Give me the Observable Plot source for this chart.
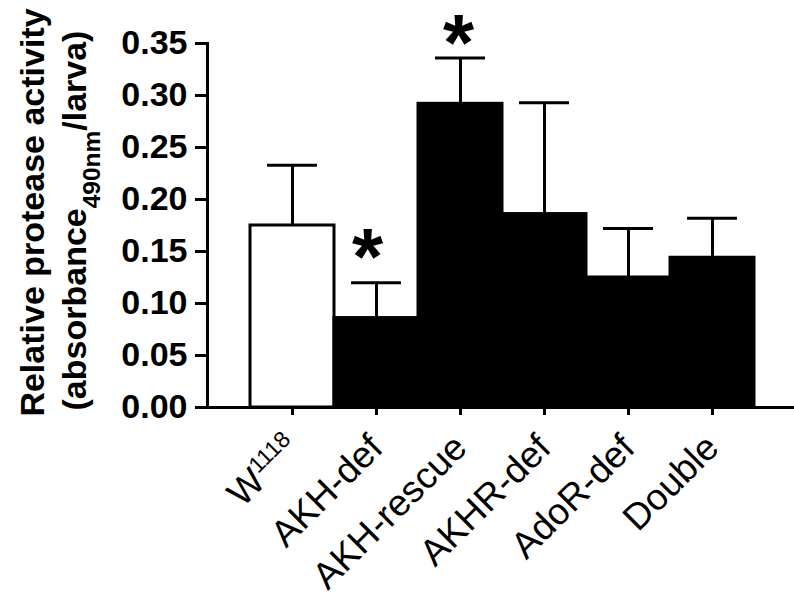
<!DOCTYPE html>
<html><head><meta charset="utf-8">
<script src="https://cdn.jsdelivr.net/npm/d3@7"></script>
<script src="https://cdn.jsdelivr.net/npm/@observablehq/plot@0.6"></script>
<style>
body{margin:0;background:#fff}
svg{font-family:"Liberation Sans", Arial, sans-serif}
</style>
</head><body><div id="chart"></div>
<script>
const categories = ["W1118","AKH-def","AKH-rescue","AKHR-def","AdoR-def","Double"];
const means = [0.175, 0.086, 0.292, 0.186, 0.125, 0.144];
const errors = [0.058, 0.034, 0.044, 0.107, 0.047, 0.038];
const barFills = ["white","black","black","black","black","black"];
const significant = [false, true, true, false, false, false];
const yTicks = [0, 0.05, 0.10, 0.15, 0.20, 0.25, 0.30, 0.35];
const yTitle1 = "Relative protease activity";
const yTitle2 = "(absorbance490nm/larva)";

const data = categories.map((c, i) => ({cat: c, mean: means[i], top: means[i] + errors[i], fill: barFills[i], sig: significant[i]}));

const plot = Plot.plot({
  width: 794,
  height: 592,
  marginLeft: 207,
  marginRight: 0,
  marginTop: 43,
  marginBottom: 185,
  x: {domain: categories, range: [207, 796], paddingInner: 0, paddingOuter: 0.48},
  y: {domain: [0, 0.35], range: [407, 43]},
  color: {type: "identity"},
  marks: [
    Plot.barY(data, {x: "cat", y: "mean", fill: "fill", stroke: "black", strokeWidth: 3, inset: 0}),
    Plot.ruleX(data, {x: "cat", y1: "mean", y2: "top", stroke: "black", strokeWidth: 3}),
    Plot.tickY(data, {x: "cat", y: "top", stroke: "black", strokeWidth: 3, insetLeft: 17, insetRight: 17}),
    Plot.text(data.filter(d => d.cat === "AKH-def" && d.sig), {x: "cat", y: "top", text: () => "*", fontSize: 80, fontWeight: "bold", dx: -9, dy: -24}),
    Plot.text(data.filter(d => d.cat === "AKH-rescue" && d.sig), {x: "cat", y: "top", text: () => "*", fontSize: 80, fontWeight: "bold", dx: -2, dy: -14}),
    Plot.ruleY([0], {stroke: "black", strokeWidth: 3}),
    Plot.frame({anchor: "left", stroke: "black", strokeWidth: 3}),
    Plot.axisY({ticks: yTicks, tickFormat: d3.format(".2f"), tickSize: 12, tickPadding: 8, fontSize: 34, fontWeight: "bold", strokeWidth: 3, label: null, fill: "black"}),
    Plot.axisX({tickSize: 8, tickRotate: -45, tickPadding: 26, fontSize: 37, strokeWidth: 3, label: null, fill: "black"}),
    Plot.text([yTitle1], {frameAnchor: "left", textAnchor: "middle", text: d => d, rotate: -90, dx: -174, dy: -13, fontSize: 34, fontWeight: "bold", className: "ytitle1"}),
    Plot.text([yTitle2], {frameAnchor: "left", textAnchor: "middle", text: d => d, rotate: -90, dx: -132, dy: -5, fontSize: 34, fontWeight: "bold", className: "ytitle2"})
  ]
});

const svg = d3.select(plot);
svg.selectAll("text").each(function() {
  const t = d3.select(this);
  if (t.text() === "W1118" && t.select("tspan").empty()) {
    t.text("");
    t.append("tspan").text("W");
    t.append("tspan").attr("baseline-shift", "super").attr("font-size", "0.62em").text("1118");
  }
});
svg.selectAll("g.ytitle2 text").each(function() {
  const t = d3.select(this);
  t.text("");
  t.append("tspan").text("(absorbance");
  t.append("tspan").attr("baseline-shift", "sub").attr("font-size", "0.72em").text("490nm");
  t.append("tspan").text("/larva)");
});
document.getElementById("chart").appendChild(plot);
</script>
</body></html>
